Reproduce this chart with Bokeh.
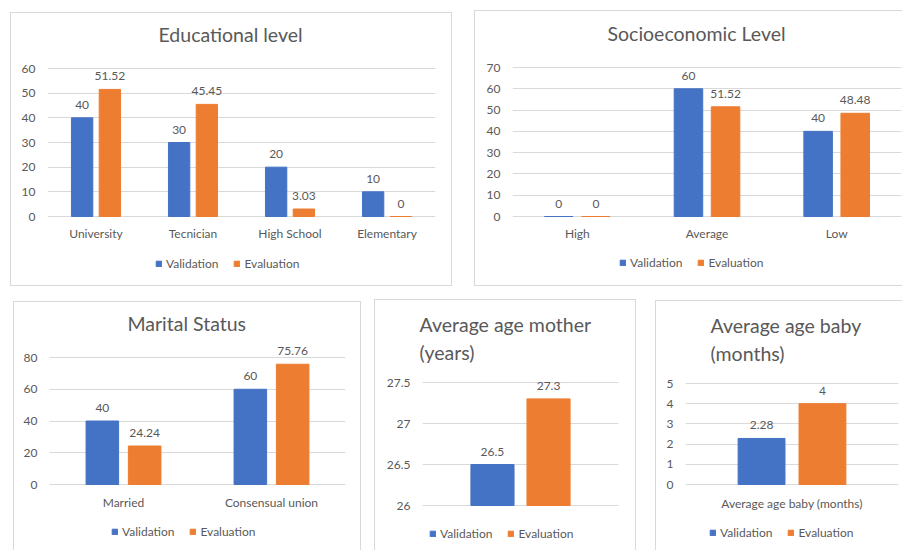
from bokeh.plotting import figure
from bokeh.models import FactorRange, Range1d, FixedTicker, ColumnDataSource, Legend, LegendItem, LabelSet
from bokeh.transform import dodge
from bokeh.core.properties import value
from bokeh.embed import file_html
from bokeh.resources import INLINE

# ---- data ----
series = ["Validation", "Evaluation"]

edu_cats = ["University", "Tecnician", "High School", "Elementary"]
edu_val = [40, 30, 20, 10]
edu_eva = [51.52, 45.45, 3.03, 0]
edu_ticks = [0, 10, 20, 30, 40, 50, 60]

socio_cats = ["High", "Average", "Low"]
socio_val = [0, 60, 40]
socio_eva = [0, 51.52, 48.48]
socio_ticks = [0, 10, 20, 30, 40, 50, 60, 70]

mar_cats = ["Married", "Consensual union"]
mar_val = [40, 60]
mar_eva = [24.24, 75.76]
mar_ticks = [0, 20, 40, 60, 80]

mother_cats = ["Average age mother (years)"]
mother_val = [26.5]
mother_eva = [27.3]
mother_ticks = [26, 26.5, 27, 27.5]

baby_cats = ["Average age baby (months)"]
baby_val = [2.28]
baby_eva = [4]
baby_ticks = [0, 1, 2, 3, 4, 5]

BLUE = "#4472C4"
ORANGE = "#ED7D31"
TXT = "#595959"
GRID = "#D9D9D9"
FONT = "Lato"


def panel(title, cats, val, eva, ticks, pos, size, frame, shadow, title_y, title_x,
          legend_x=0, legend_y=0, cat_dy=-17, show_cats=True, ext=20, multiline=False):
    px, py = pos
    w, h = size
    f_left, f_right, f_top, f_base = frame      # page pixels of top gridline / baseline
    new_top = f_top - ext
    new_bottom = py + h - 1
    scale = (f_base - f_top) / (ticks[-1] - ticks[0])
    y_start = ticks[0] - (new_bottom - f_base) / scale
    y_end = ticks[-1] + ext / scale

    p = figure(x_range=FactorRange(*cats), y_range=Range1d(y_start, y_end),
               width=w, height=h, output_backend="svg", toolbar_location=None,
               min_border_left=f_left - px, min_border_right=px + w - f_right,
               min_border_top=new_top - py, min_border_bottom=1,
               border_fill_color=None, background_fill_color=None, outline_line_color=None,
               styles={"position": "absolute", "left": f"{px}px", "top": f"{py}px",
                       "box-shadow": shadow})
    src = ColumnDataSource(dict(cat=cats, val=val, eva=eva, base=[ticks[0]] * len(cats),
                                vl=[f"{v:g}" for v in val], el=[f"{v:g}" for v in eva]))
    r1 = p.vbar(x=dodge("cat", -0.143, range=p.x_range), top="val", bottom=ticks[0],
                width=0.22, color=BLUE, source=src)
    r2 = p.vbar(x=dodge("cat", 0.143, range=p.x_range), top="eva", bottom=ticks[0],
                width=0.22, color=ORANGE, source=src)
    for col, ycol, off in (("vl", "val", -0.143), ("el", "eva", 0.143)):
        p.add_layout(LabelSet(x=dodge("cat", off, range=p.x_range), y=ycol, text=col, source=src,
                              text_align="center", text_baseline="middle", y_offset=13,
                              text_font=value(FONT), text_font_size=value("12px"),
                              text_color=TXT))
    if show_cats:
        p.add_layout(LabelSet(x="cat", y="base", text="cat", source=src,
                              text_align="center", text_baseline="middle", y_offset=cat_dy,
                              text_font=value(FONT), text_font_size=value("12px"),
                              text_color=TXT))

    p.title.text = title
    p.title.align = "left"
    p.title.offset = title_x
    if multiline:
        p.title.text_line_height = 1.22
        p.title.standoff = new_top - title_y - 2
    else:
        p.title.standoff = new_top - title_y - 5
    p.title.text_font = FONT
    p.title.text_font_size = "19.5px"
    p.title.text_font_style = "normal"
    p.title.text_color = TXT

    p.yaxis.ticker = FixedTicker(ticks=ticks)
    p.yaxis.major_label_overrides = {t: f"{t:g}" for t in ticks}
    p.yaxis.axis_line_color = None
    p.yaxis.major_tick_line_color = None
    p.yaxis.minor_tick_line_color = None
    p.yaxis.major_tick_out = 0
    p.yaxis.major_label_standoff = 12
    p.yaxis.major_label_text_font = FONT
    p.yaxis.major_label_text_font_size = "12px"
    p.yaxis.major_label_text_color = TXT

    p.xaxis.visible = False
    p.xgrid.grid_line_color = None
    p.ygrid.grid_line_color = GRID
    p.ygrid.ticker = FixedTicker(ticks=ticks)

    legend = Legend(items=[LegendItem(label=series[0], renderers=[r1]),
                           LegendItem(label=series[1], renderers=[r2])],
                    orientation="horizontal",
                    location=(legend_x - f_left, new_bottom - legend_y - 7),
                    glyph_width=7, glyph_height=7, label_standoff=4, spacing=15,
                    label_text_font=FONT, label_text_font_size="12px", label_text_color=TXT,
                    border_line_color=None, background_fill_alpha=0,
                    padding=4, margin=0)
    p.add_layout(legend)
    return p


S_ALL = f"inset 0 0 0 1px {GRID}"
S_LTR = f"inset 1px 0 0 {GRID}, inset -1px 0 0 {GRID}, inset 0 1px 0 {GRID}"
S_LT = f"inset 1px 0 0 {GRID}, inset 0 1px 0 {GRID}"
S_LTB = f"inset 1px 0 0 {GRID}, inset 0 1px 0 {GRID}, inset 0 -1px 0 {GRID}"

p1 = panel("Educational level", edu_cats, edu_val, edu_eva, edu_ticks,
           (10, 12), (442, 274), (47, 435, 68, 216), S_ALL, 37, 111,
           legend_x=155, legend_y=264, cat_dy=-17)
p2 = panel("Socioeconomic  Level", socio_cats, socio_val, socio_eva, socio_ticks,
           (474, 10), (428, 276), (512, 901, 67, 216), S_LTB, 37, 95,
           legend_x=619, legend_y=263, cat_dy=-17)
p3 = panel("Marital Status", mar_cats, mar_val, mar_eva, mar_ticks,
           (13, 301), (348, 249), (49, 345, 357, 484), S_LTR, 327, 78,
           legend_x=111, legend_y=532, cat_dy=-18)
p4 = panel("Average age mother\n(years)", mother_cats, mother_val, mother_eva, mother_ticks,
           (374, 299), (262, 251), (422, 618, 382, 505), S_LTR, 352, -3,
           legend_x=429, legend_y=534, show_cats=False, ext=8, multiline=True)
p5 = panel("Average age baby\n(months)", baby_cats, baby_val, baby_eva, baby_ticks,
           (655, 300), (247, 250), (685, 898, 383, 484), S_LT, 353, 25,
           legend_x=709, legend_y=533, cat_dy=-19, ext=8, multiline=True)

open("out.html", "w").write(file_html([p1, p2, p3, p4, p5], INLINE))
